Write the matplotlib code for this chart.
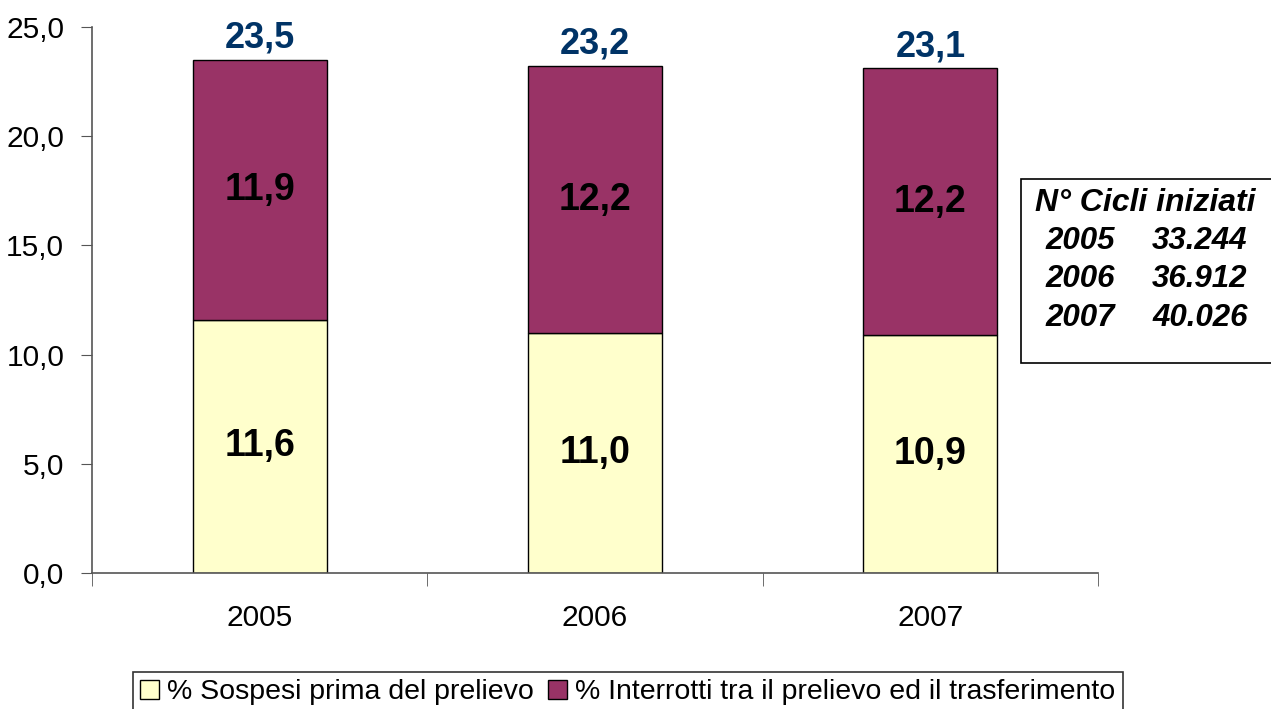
import matplotlib
matplotlib.use("Agg")
import matplotlib.pyplot as plt
from matplotlib.patches import Rectangle
import numpy as np

plt.rcParams["font.family"] = ["Liberation Sans", "DejaVu Sans"]

# dati
anni = ["2005", "2006", "2007"]
sospesi = [11.6, 11.0, 10.9]
interrotti = [11.9, 12.2, 12.2]
totali = [23.5, 23.2, 23.1]
cicli = ["33.244", "36.912", "40.026"]

col_sosp = "#FFFFCC"
col_int = "#993366"

fig = plt.figure(figsize=(12.71, 7.09), dpi=100)
ax = fig.add_axes([92 / 1271, 1 - 573 / 709, 1006 / 1271, 546 / 709])

x = np.arange(len(anni))
b1 = ax.bar(x, sospesi, width=0.4, color=col_sosp, edgecolor="black", linewidth=1)
b2 = ax.bar(x, interrotti, width=0.4, bottom=sospesi, color=col_int,
            edgecolor="black", linewidth=1)

fmt = lambda v: f"{v:.1f}".replace(".", ",")
for i in range(len(anni)):
    ax.text(x[i], sospesi[i] / 2, fmt(sospesi[i]), ha="center", va="center",
            fontsize=27, fontweight="bold")
    ax.text(x[i], sospesi[i] + interrotti[i] / 2, fmt(interrotti[i]),
            ha="center", va="center", fontsize=27, fontweight="bold")
    ax.text(x[i], totali[i] + 0.2, fmt(totali[i]), ha="center", va="bottom",
            fontsize=26, fontweight="bold", color="#003366")

ax.set_xlim(-0.5, 2.5)
ax.set_ylim(0, 25)
ax.set_yticks(np.arange(0, 25.1, 5))
ax.set_yticklabels([fmt(v) for v in np.arange(0, 25.1, 5)], fontsize=21.5)
ax.set_xticks(x)
ax.set_xticklabels(anni, fontsize=21.5)
ax.tick_params(axis="x", length=0, pad=22)
ax.set_xticks([-0.5, 0.5, 1.5, 2.5], minor=True)
ax.tick_params(axis="x", which="minor", length=9, direction="out", color="#555555")
ax.tick_params(axis="y", length=8, direction="out", color="#555555", pad=12)
for s in ["top", "right"]:
    ax.spines[s].set_visible(False)
for s in ["left", "bottom"]:
    ax.spines[s].set_color("#555555")
    ax.spines[s].set_linewidth(1.2)

# riquadro cicli iniziati
fig.patches.append(Rectangle((1021 / 1271, 1 - 363 / 709), 0.3, 184 / 709,
                             transform=fig.transFigure, facecolor="white",
                             edgecolor="black", linewidth=1.2))
fig.text(1145 / 1271, 1 - 203 / 709, "N° Cicli iniziati", ha="center", va="center",
         fontsize=23, fontweight="bold", style="italic")
for i, (a, c) in enumerate(zip(anni, cicli)):
    yy = 1 - (241 + i * 38.5) / 709
    fig.text(1080 / 1271, yy, a, ha="center", va="center", fontsize=22.5,
             fontweight="bold", style="italic")
    fig.text(1200 / 1271, yy, c, ha="center", va="center", fontsize=22.5,
             fontweight="bold", style="italic")

leg = fig.legend([b1, b2], ["% Sospesi prima del prelievo",
                            "% Interrotti tra il prelievo ed il trasferimento"],
                 loc="upper left", bbox_to_anchor=(133 / 1271, 1 - 672 / 709),
                 ncol=2, fontsize=20.5, frameon=True, fancybox=False,
                 edgecolor="black", handlelength=0.65, handleheight=0.65,
                 handletextpad=0.3, columnspacing=0.5, borderpad=0.25,
                 borderaxespad=0)
leg.get_frame().set_linewidth(1.2)

fig.savefig("out.png", dpi=100)
